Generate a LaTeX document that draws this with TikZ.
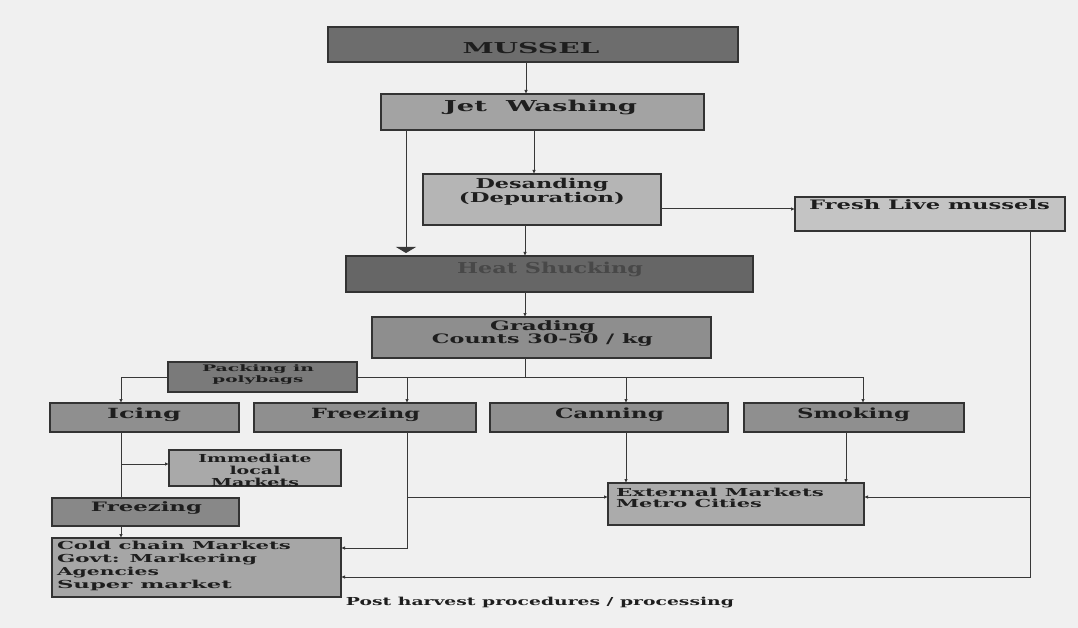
\documentclass[tikz,border=0pt]{standalone}
\usepackage{fontspec}
\setmainfont{DejaVu Serif}
\usetikzlibrary{arrows.meta}
\newcommand\fw[2]{\resizebox{#1pt}{\height}{#2}}
\definecolor{bgc}{HTML}{F0F0F0}
\definecolor{txt}{HTML}{1E1E1E}
\definecolor{cMussel}{HTML}{6D6D6D}
\definecolor{cJet}{HTML}{A3A3A3}
\definecolor{cDes}{HTML}{B5B5B5}
\definecolor{cFresh}{HTML}{C4C4C4}
\definecolor{cHeat}{HTML}{666666}
\definecolor{cHeatTxt}{HTML}{484848}
\definecolor{cGrad}{HTML}{8E8E8E}
\definecolor{cPack}{HTML}{7A7A7A}
\definecolor{cRow}{HTML}{8F8F8F}
\definecolor{cImm}{HTML}{A9A9A9}
\definecolor{cFr2}{HTML}{888888}
\definecolor{cCold}{HTML}{A6A6A6}
\definecolor{cExt}{HTML}{ABABAB}
\begin{document}
\begin{tikzpicture}[x=1pt,y=-1pt,
  box/.style={draw=black!80, line width=1.1pt, inner sep=0pt, outer sep=0pt},
  lbl/.style={inner sep=0pt, outer sep=0pt, text=txt},
  ln/.style={draw=black!78, line width=1pt},
  arr/.style={ln,-{Latex[length=4pt,width=3.5pt]}},
  bigarr/.style={ln,-{Triangle[width=20pt,length=6pt]}}]
\fill[bgc] (0,0) rectangle (1078,628);
\useasboundingbox (0,0) rectangle (1078,628);

% helper coordinates
\coordinate (k1) at (526,0);
\coordinate (k2) at (534,0);
\coordinate (k3) at (406,0);
\coordinate (k4) at (525,0);
\coordinate (bus) at (0,377);
\coordinate (xI) at (121,0);
\coordinate (xF) at (407,0);
\coordinate (xC) at (626,0);
\coordinate (xS) at (863,0);
\coordinate (xS2) at (846,0);
\coordinate (xR) at (1030,0);
\coordinate (y209) at (0,209);
\coordinate (y464) at (0,464);
\coordinate (y497) at (0,497);
\coordinate (y548) at (0,548);
\coordinate (y577) at (0,577);

% bus behind packing box
\draw[ln] (bus -| xI) -- (bus -| xS);

% boxes
\node[box, fill=cMussel, minimum width=410pt, minimum height=35pt] (mussel) at (533,44.5) {};
\node[box, fill=cJet, minimum width=323pt, minimum height=36pt] (jet) at (542.5,112) {};
\node[box, fill=cDes, minimum width=238pt, minimum height=51pt] (desand) at (542,199.5) {};
\node[box, fill=cFresh, minimum width=270pt, minimum height=34pt] (fresh) at (930,214) {};
\node[box, fill=cHeat, minimum width=407pt, minimum height=36pt] (heat) at (549.5,274) {};
\node[box, fill=cGrad, minimum width=339pt, minimum height=41pt] (grading) at (541.5,337.5) {};
\node[box, fill=cRow, minimum width=189pt, minimum height=29pt] (icing) at (144.5,417.5) {};
\node[box, fill=cRow, minimum width=222pt, minimum height=29pt] (freez1) at (365,417.5) {};
\node[box, fill=cRow, minimum width=238pt, minimum height=29pt] (canning) at (609,417.5) {};
\node[box, fill=cRow, minimum width=220pt, minimum height=29pt] (smoking) at (854,417.5) {};
\node[box, fill=cImm, minimum width=172pt, minimum height=36pt] (immed) at (255,468) {};
\node[box, fill=cFr2, minimum width=187pt, minimum height=28pt] (freez2) at (145.5,512) {};
\node[box, fill=cCold, minimum width=289pt, minimum height=59pt] (cold) at (196.5,567.5) {};
\node[box, fill=cExt, minimum width=256pt, minimum height=42pt] (ext) at (736,504) {};
\node[box, fill=cPack, minimum width=189pt, minimum height=30pt] (packing) at (262.5,377) {};

% texts
\node[lbl, font=\fontsize{15}{18}\selectfont\bfseries] (musselT) at (531,48.5) {\fw{137}{MUSSEL}};
\node[lbl, font=\fontsize{15}{18}\selectfont\bfseries] (jetT) at (540.5,107) {\fw{193}{Jet\ \ Washing}};
\node[lbl, align=center, font=\fontsize{13.5}{13.5}\selectfont\bfseries] (desandT) at (542,192) {\fw{133}{Desanding}\\\fw{166}{(Depuration)}};
\node[lbl, font=\fontsize{13}{16}\selectfont\bfseries] (freshT) at (929.5,205) {\fw{241}{Fresh Live mussels}};
\node[lbl, text=cHeatTxt, font=\fontsize{15}{18}\selectfont\bfseries] (heatT) at (550,269) {\fw{186}{Heat Shucking}};
\node[lbl, align=center, font=\fontsize{13}{13}\selectfont\bfseries] (gradingT) at (542.5,334) {\fw{105}{Grading}\\\fw{221}{Counts 30-50 / kg}};
\node[lbl, align=center, font=\fontsize{9}{11}\selectfont\bfseries] (packingT) at (258,375) {\fw{112}{Packing in}\\\fw{91}{polybags}};
\node[lbl, font=\fontsize{14}{16}\selectfont\bfseries] (icingT) at (144,414.5) {\fw{74}{Icing}};
\node[lbl, font=\fontsize{14}{16}\selectfont\bfseries] (freez1T) at (365.5,414.5) {\fw{109}{Freezing}};
\node[lbl, font=\fontsize{14}{16}\selectfont\bfseries] (canningT) at (609.5,414.5) {\fw{109}{Canning}};
\node[lbl, font=\fontsize{14}{16}\selectfont\bfseries] (smokingT) at (853.5,414.5) {\fw{113}{Smoking}};
\node[lbl, align=center, font=\fontsize{11}{12}\selectfont\bfseries] (immedT) at (255,470) {\fw{113}{Immediate}\\\fw{51}{local}\\\fw{88}{Markets}};
\node[lbl, font=\fontsize{13}{16}\selectfont\bfseries] (freez2T) at (146.5,508) {\fw{111}{Freezing}};
\node[lbl, anchor=west, align=left, font=\fontsize{11}{13}\selectfont\bfseries] (coldT) at (57,566) {\fw{234}{Cold chain Markets}\\\fw{200}{Govt: Markering}\\\fw{102}{Agencies}\\\fw{175}{Super market}};
\node[lbl, anchor=west, align=left, font=\fontsize{11}{11.5}\selectfont\bfseries] (extT) at (616,498) {\fw{208}{External Markets}\\\fw{146}{Metro Cities}};
\node[lbl, font=\fontsize{11}{13}\selectfont\bfseries] (caption) at (540,603) {\fw{388}{Post harvest procedures / processing}};

% connectors
\draw[arr] (mussel.south -| k1) -- (jet.north -| k1);
\draw[arr] (jet.south -| k2) -- (desand.north -| k2);
\draw[bigarr, shorten >=3pt] (jet.south -| k3) -- (heat.north -| k3);
\draw[arr] (desand.south -| k4) -- (heat.north -| k4);
\draw[arr] (y209 -| desand.east) -- (y209 -| fresh.west);
\draw[arr] (heat.south -| k4) -- (grading.north -| k4);
\draw[ln] (grading.south -| k4) -- (bus -| k4);
\draw[arr] (bus -| xI) -- (icing.north -| xI);
\draw[arr] (bus -| xF) -- (freez1.north -| xF);
\draw[arr] (bus -| xC) -- (canning.north -| xC);
\draw[arr] (bus -| xS) -- (smoking.north -| xS);
\draw[ln] (icing.south -| xI) -- (freez2.north -| xI);
\draw[arr] (y464 -| xI) -- (y464 -| immed.west);
\draw[arr] (freez2.south -| xI) -- (cold.north -| xI);
\draw[arr] (freez1.south -| xF) -- (y548 -| xF) -- (y548 -| cold.east);
\draw[arr] (y497 -| xF) -- (y497 -| ext.west);
\draw[arr] (canning.south -| xC) -- (ext.north -| xC);
\draw[arr] (smoking.south -| xS2) -- (ext.north -| xS2);
\draw[arr] (fresh.south -| xR) -- (y577 -| xR) -- (y577 -| cold.east);
\draw[arr] (y497 -| xR) -- (y497 -| ext.east);
\end{tikzpicture}
\end{document}
